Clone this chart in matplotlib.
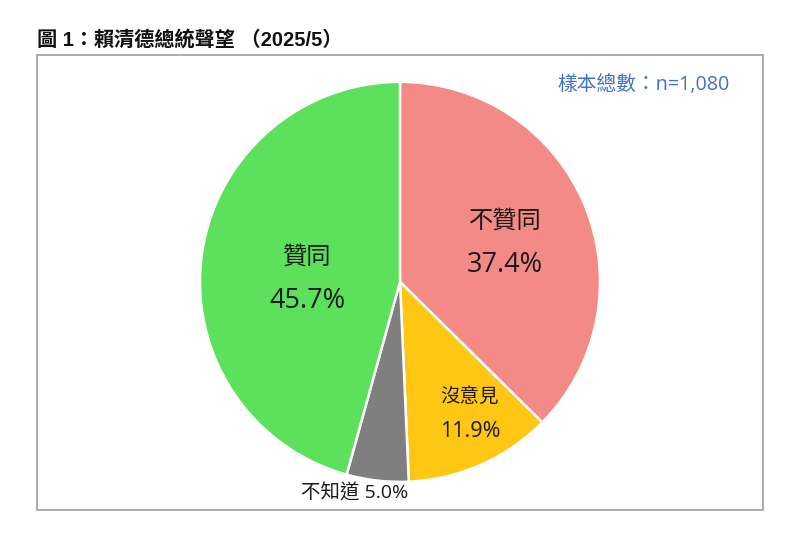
import matplotlib.pyplot as plt
from matplotlib.patches import Rectangle

plt.rcParams['font.family'] = ['Open Sans', 'Noto Sans CJK TC', 'DejaVu Sans']

labels = ['不贊同', '沒意見', '不知道', '贊同']
values = [37.4, 11.9, 5.0, 45.7]
colors = ['#F48A86', '#FFC713', '#7F7F7F', '#5CE15C']
title = '圖 1：賴清德總統聲望 （2025/5）'
sample_note = '樣本總數：n=1,080'

fig = plt.figure(figsize=(8, 5.38), dpi=100)

# outer frame
fig.patches.append(Rectangle((37 / 800, 1 - 510 / 538), 726 / 800, 455 / 538,
                             transform=fig.transFigure, fill=False,
                             edgecolor='#A6A6A6', linewidth=1.3))

fig.text(37 / 800, 1 - 40 / 538, title, fontsize=14.5, fontweight='bold',
         va='center', ha='left', color='#111111',
         family=['Liberation Sans', 'Noto Sans CJK TC'])
fig.text(730 / 800, 1 - 85 / 538, sample_note, fontsize=14.2,
         va='center', ha='right', color='#4472C4')

ax = fig.add_axes([0.25, 0.476 - 0.3717, 0.5, 0.7435])
ax.pie(values, colors=colors, startangle=90, counterclock=False,
       wedgeprops=dict(edgecolor='white', linewidth=1.8))
ax.set_xlim(-1, 1)
ax.set_ylim(-1, 1)
ax.set_aspect('equal')

# label positions in pie units (centre 0,0, radius 1)
big = dict(fontsize=17.5, ha='center', va='center', color='#1a1a1a')
big_pct = dict(big, fontsize=19.5)
small = dict(fontsize=14, ha='center', va='center', color='#1a1a1a')
small_pct = dict(small, fontsize=15.5)
ax.text(0.525, 0.30, labels[0], **big)
ax.text(0.525, 0.085, f'{values[0]}%', **big_pct)
ax.text(-0.465, 0.12, labels[3], **big)
ax.text(-0.465, -0.095, f'{values[3]}%', **big_pct)
ax.text(0.35, -0.575, labels[1], **small)
ax.text(0.35, -0.75, f'{values[1]}%', **small_pct)
ax.text(-0.225, -1.055, f'{labels[2]} {values[2]}%', clip_on=False, **small)

fig.savefig('out.png', dpi=100)
